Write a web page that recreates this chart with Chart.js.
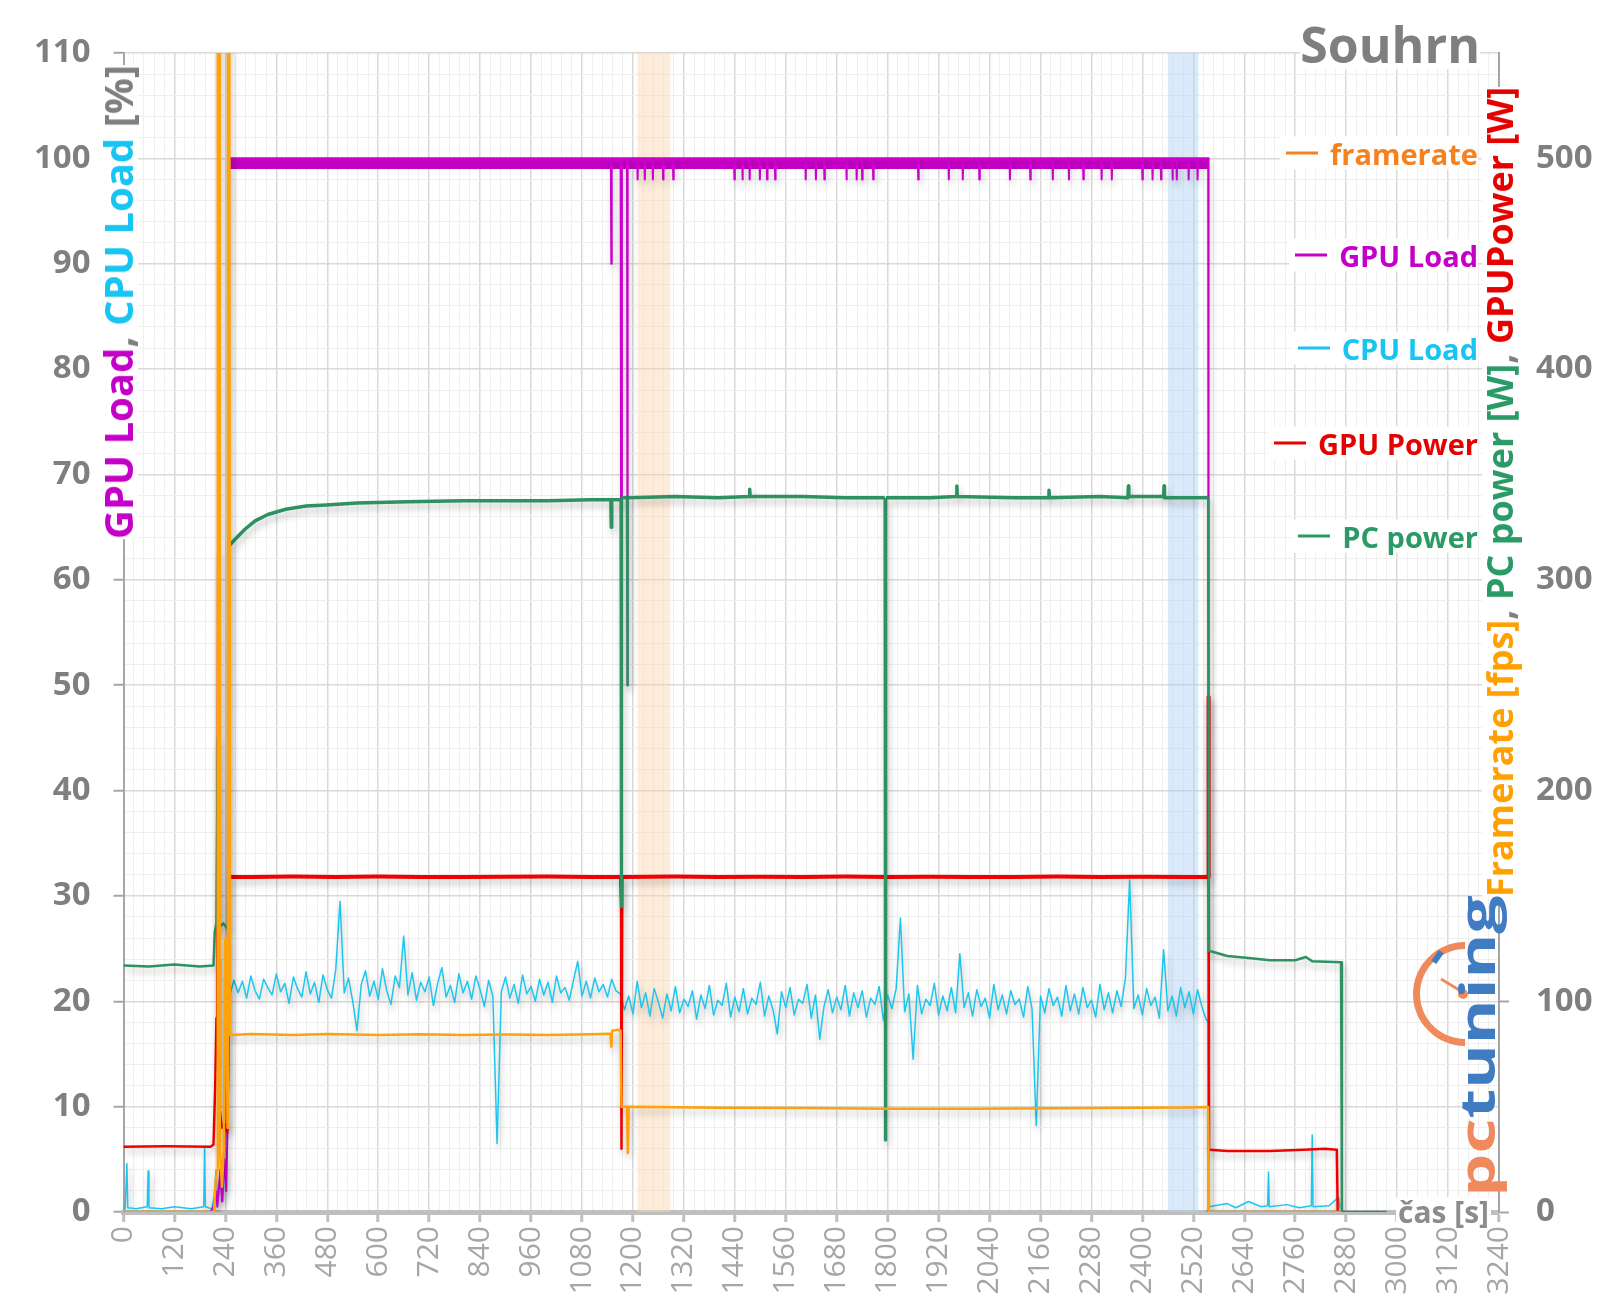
<!DOCTYPE html>
<html lang="cs">
<head>
<meta charset="utf-8">
<title>Souhrn</title>
<script src="https://cdn.jsdelivr.net/npm/chart.js@4.4.1/dist/chart.umd.min.js"></script>
<style>
html, body { margin: 0; padding: 0; background: #fff; }
#wrap { position: relative; width: 1600px; height: 1300px; overflow: hidden; font-family: 'Open Sans', sans-serif; }
#chart { position: absolute; left: 0; top: 0; }
.box { position: absolute; white-space: nowrap; line-height: 1; font-weight: 700; background: #fff; }
.rot { transform: translate(-50%, -50%) rotate(-90deg); }
.leg { position: absolute; right: 122px; transform: translateY(-50%); display: flex; align-items: center;
       font: 700 29px 'Open Sans', sans-serif; line-height: 1; background: #fff; padding: 2px 0 2px 6px; white-space: nowrap; }
.leg i { display: inline-block; width: 32px; height: 3px; margin-right: 12px; }
.arc { position: absolute; width: 90px; height: 90px; border: 7px solid transparent; border-left-color: #f0895c;
       border-bottom-color: #f0895c; border-radius: 50%; transform: rotate(45deg); }
.needle { position: absolute; width: 28px; height: 3px; background: #f0895c; transform-origin: 0 50%; transform: rotate(-149deg); }
.dot { position: absolute; width: 10px; height: 10px; border-radius: 50%; background: #f0895c; }
.tick { position: absolute; width: 13px; height: 6px; background: #3f7cc2; transform: rotate(-55deg); }
.logo { transform: translate(-50%, -50%) rotate(-90deg) scaleX(1.42); }
</style>
</head>
<body>
<div id="wrap">
  <canvas id="chart" width="1600" height="1300"></canvas>

  <div class="box" style="right:120px; top:19px; font-size:50px; color:#7f7f7f;">Souhrn</div>

  <div class="box rot" style="left:118px; top:302px; font-size:40px;">
    <span style="color:#c400c8">GPU Load</span><span style="color:#7f7f7f">, </span><span style="color:#18c4f2">CPU Load</span><span style="color:#7f7f7f"> [%]</span>
  </div>

  <div class="box rot" style="left:1500px; top:492px; font-size:36px;">
    <span style="color:#ffa000">Framerate [fps]</span><span style="color:#7f7f7f">, </span><span style="color:#2a9a66">PC power [W]</span><span style="color:#7f7f7f">, </span><span style="color:#e60000">GPUPower [W]</span>
  </div>

  <div class="box" style="left:1396px; top:1197px; font-size:30px; color:#8c8c8c; padding:0 2px;">čas [s]</div>

  <div class="leg" style="top:153px"><i style="background:#f5821f"></i><span style="color:#f5821f">framerate</span></div>
  <div class="leg" style="top:255px"><i style="background:#c400c8"></i><span style="color:#c400c8">GPU Load</span></div>
  <div class="leg" style="top:348px"><i style="background:#18c4f2"></i><span style="color:#18c4f2">CPU Load</span></div>
  <div class="leg" style="top:443px"><i style="background:#e60000"></i><span style="color:#e60000">GPU Power</span></div>
  <div class="leg" style="top:536px"><i style="background:#2a9a66"></i><span style="color:#2a9a66">PC power</span></div>

  <!-- pctuning logo -->
  <div class="arc" style="left:1413px; top:942px;"></div>
  <div class="tick" style="left:1431px; top:954px;"></div>
  <div class="needle" style="left:1465px; top:992px;"></div>
  <div class="dot" style="left:1458px; top:989px;"></div>
  <div class="box logo" style="left:1477px; top:1046px; font-size:48px; background:transparent;">
    <span style="color:#f0895c">pc</span><span style="color:#3f7cc2">tuning</span>
  </div>
</div>

<script>
(() => {
'use strict';
const $ = s => document.querySelector(s);

// time axis [s]
const timeMin = 0, timeMax = 3240, timeStep = 120, timeMinorStep = 24;
// left axis [%], right axis [W / fps]
const loadMax = 110, loadStep = 10, loadMinorStep = 2;
const powerMax = 550, powerStep = 100;

// highlighted intervals [s]
const bandStart = [1211, 2460];
const bandEnd = [1288, 2532];

// framerate [fps] as [time, value]
const framerate = [
  [0, 0], [213, 0], [217, 15], [221, 20], [222, 700], [226, 700], [227, 30], [232, 12], [236, 30], [240, 130],
  [243, 100], [245, 40], [246, 700], [249, 700], [251, 84], [300, 84.5], [400, 84], [480, 84.5], [600, 84],
  [700, 84.3], [800, 84], [900, 84.2], [1000, 84], [1100, 84.4], [1147, 84.6], [1149, 78.5], [1151, 86],
  [1165, 86.5], [1171, 86], [1173, 50], [1186, 50], [1188, 28], [1190, 50], [1250, 49.8], [1400, 49.5],
  [1600, 49.3], [1800, 49], [2000, 49], [2200, 49.2], [2400, 49.5], [2500, 49.6], [2555, 49.8], [2557, 0], [2869, 0]
];

// GPU load [%]
const gpuLoad = [
  [0, 0], [205, 0], [212, 0.5], [218, 2], [221, 0.5], [228, 4], [232, 1], [238, 5], [242, 2], [245, 8], [248, 100],
  [1148, 100], [1149, 90], [1150, 100], [1171, 100], [1172, 67], [1174, 100], [1186, 100], [1187, 50], [1188, 100],
  [1210, 100], [1211, 98], [1212, 100], [1227, 100], [1228, 98], [1229, 100], [1246, 100], [1247, 98], [1248, 100],
  [1270, 100], [1271, 98], [1272, 100], [1294, 100], [1295, 98], [1296, 100], [1438, 100], [1439, 98], [1440, 100],
  [1457, 100], [1458, 98], [1459, 100], [1474, 100], [1475, 98], [1476, 100], [1498, 100], [1499, 98], [1500, 100],
  [1515, 100], [1516, 98], [1517, 100], [1534, 100], [1535, 98], [1536, 100], [1606, 100], [1607, 98], [1608, 100],
  [1630, 100], [1631, 98], [1632, 100], [1650, 100], [1651, 98], [1652, 100], [1702, 100], [1703, 98], [1704, 100],
  [1726, 100], [1727, 98], [1728, 100], [1739, 100], [1740, 98], [1741, 100], [1765, 100], [1766, 98], [1767, 100],
  [1871, 100], [1872, 98], [1873, 100], [1943, 100], [1944, 98], [1945, 100], [1976, 100], [1977, 98], [1978, 100],
  [2015, 100], [2016, 98], [2017, 100], [2087, 100], [2088, 98], [2089, 100], [2135, 100], [2136, 98], [2137, 100],
  [2188, 100], [2189, 98], [2190, 100], [2226, 100], [2227, 98], [2228, 100], [2260, 100], [2261, 98], [2262, 100],
  [2303, 100], [2304, 98], [2305, 100], [2327, 100], [2328, 98], [2329, 100], [2399, 100], [2400, 98], [2401, 100],
  [2423, 100], [2424, 98], [2425, 100], [2443, 100], [2444, 98], [2445, 100], [2470, 100], [2471, 98], [2472, 100],
  [2480, 100], [2481, 98], [2482, 100], [2508, 100], [2509, 98], [2510, 100], [2529, 100], [2530, 98], [2531, 100],
  [2555, 100], [2556, 0], [2869, 0]
];

// CPU load [%]: idle part, sampled run (every 10 s from 250 s), idle tail
const cpuIdle = [
  [0, 0.6], [4, 0.3], [8, 4.6], [10, 0.4], [30, 0.3], [56, 0.5], [58, 3.9], [60, 0.4], [90, 0.3], [120, 0.5],
  [160, 0.3], [189, 0.5], [191, 6.1], [193, 0.5], [208, 0.3], [214, 1.5], [218, 4], [222, 1], [228, 3], [234, 1],
  [240, 6], [244, 20]
];
const cpuStart = 250, cpuStep = 10;
const cpuLoad = [
  20.5, 22.0, 20.8, 21.9, 20.3, 22.4, 21.0, 20.2, 22.1, 21.3,
  20.6, 22.6, 20.9, 21.7, 19.8, 22.3, 21.2, 20.4, 22.8, 20.7,
  21.8, 19.9, 22.5, 21.1, 20.3, 23.0, 29.5, 20.8, 22.2, 20.0,
  17.2, 21.6, 22.9, 20.5, 21.9, 20.2, 23.1, 21.0, 19.7, 22.4,
  21.3, 26.2, 20.6, 22.7, 20.1, 21.8, 20.9, 22.3, 19.6, 21.7,
  23.2, 20.4, 21.5, 19.9, 22.6, 20.8, 21.9, 20.2, 22.4, 21.1,
  19.5, 22.0, 20.5, 6.5, 20.9, 22.3, 20.3, 21.6, 19.8, 22.5,
  20.7, 21.4, 20.0, 22.1, 20.6, 21.8, 19.9, 22.4, 20.8, 21.3,
  20.1, 22.0, 23.8, 20.5, 21.9, 20.3, 22.2, 20.9, 21.6, 20.4,
  22.1, 21.0, 20.7,
  19.2, 20.5, 18.8, 21.9, 19.4, 20.8, 18.6, 21.2, 19.9, 18.4,
  20.7, 19.1, 21.4, 18.9, 20.2, 19.5, 21.0, 18.3, 20.6, 19.3,
  21.5, 18.7, 20.1, 19.6, 21.7, 18.5, 20.4, 19.0, 21.2, 18.8,
  20.3, 19.7, 21.8, 18.6, 20.5, 19.2, 16.9, 20.9, 19.4, 21.3,
  18.7, 20.2, 19.8, 21.6, 18.4, 20.6, 16.4, 19.5, 21.1, 18.9,
  20.4, 19.2, 21.5, 18.6, 20.8, 19.4, 21.0, 18.5, 20.3, 19.7,
  21.4, 18.2, 20.6, 19.3, 21.2, 27.9, 19.0, 20.7, 14.5, 21.5,
  18.8, 20.2, 19.6, 21.7, 18.7, 20.5, 19.1, 21.3, 18.9, 24.5,
  19.4, 20.8, 18.6, 21.1, 19.5, 20.3, 18.4, 21.6, 19.2, 20.6,
  18.8, 21.0, 19.7, 20.2, 18.5, 21.4, 19.3, 8.2, 20.5, 18.9,
  21.2, 19.6, 20.4, 18.6, 21.5, 19.1, 20.7, 18.8, 21.3, 19.4,
  20.1, 18.5, 21.6, 19.2, 20.8, 18.9, 21.0, 19.5, 22.2, 31.5,
  19.3, 20.6, 18.7, 21.2, 19.6, 20.4, 18.4, 24.9, 19.1, 20.5,
  18.6, 21.3, 19.4, 20.9, 18.8, 21.1, 19.5, 18.3
];
const cpuTail = [
  [2556, 18], [2557, 0.5], [2600, 0.8], [2620, 0.4], [2650, 1.0], [2680, 0.5], [2695, 0.6], [2697, 3.8],
  [2699, 0.5], [2740, 0.7], [2770, 0.4], [2798, 0.6], [2800, 7.3], [2802, 0.5], [2840, 0.6], [2862, 1.4], [2866, 0.3]
];

// GPU power [W]
const gpuPower = [
  [0, 31], [100, 31.2], [205, 31], [212, 32], [216, 60], [219, 92], [221, 88], [223, 313], [225, 120], [227, 48],
  [232, 40], [238, 42], [244, 38], [247, 70], [249, 159], [300, 159], [400, 159.2], [500, 159], [600, 159.2],
  [700, 159], [800, 159], [900, 159.1], [1000, 159.2], [1100, 159], [1170, 159], [1172, 145], [1173, 30],
  [1175, 159], [1300, 159.2], [1400, 159], [1500, 159.1], [1600, 159], [1700, 159.2], [1800, 159],
  [1900, 159.1], [2000, 159], [2100, 159], [2200, 159.2], [2300, 159], [2400, 159.1], [2500, 159],
  [2555, 159], [2556, 245], [2557, 29.5], [2600, 29], [2700, 29], [2780, 29.5], [2830, 30], [2858, 29.5],
  [2860, 0], [2869, 0]
];

// PC power [W]
const pcPower = [
  [0, 117], [60, 116.5], [120, 117.5], [180, 116.5], [212, 117], [215, 133], [219, 137], [222, 225], [225, 135],
  [235, 137], [246, 134], [250, 316.5], [262, 319], [286, 324], [310, 328], [340, 331], [382, 333.5], [430, 335],
  [478, 335.5], [550, 336.5], [670, 337], [800, 337.5], [1000, 337.5], [1100, 338], [1148, 338], [1149, 325],
  [1150, 338], [1171, 338], [1172, 145], [1174, 339], [1186, 339], [1187, 250], [1188, 339], [1300, 339.5],
  [1400, 339], [1474, 339.5], [1475, 343], [1476, 339.5], [1600, 339.5], [1700, 339], [1793, 339], [1794, 34],
  [1796, 339], [1900, 339], [1962, 339.5], [1963, 344.5], [1964, 339.5], [2100, 339], [2179, 339], [2180, 342.5],
  [2181, 339], [2300, 339.5], [2366, 339], [2367, 344.5], [2368, 339.5], [2450, 339.5], [2451, 344.5],
  [2452, 339], [2555, 339], [2557, 124], [2600, 121.5], [2650, 120.5], [2700, 119.5], [2760, 119.5],
  [2785, 121], [2800, 119], [2868, 118.5], [2870, 0], [2975, 0]
];

const GRAY = '#7f7f7f';
const FONT = "'Open Sans', sans-serif";

const toPts = pairs => pairs.map(([x, y]) => ({ x, y }));
const cpuPts = toPts(cpuIdle)
  .concat(cpuLoad.map((v, i) => ({ x: cpuStart + i * cpuStep, y: v })))
  .concat(toPts(cpuTail));

// soft shadow under the lines, like the original
const shadowPlugin = {
  id: 'shadow',
  beforeDatasetDraw(chart) {
    const c = chart.ctx;
    c.save();
    c.shadowColor = 'rgba(0,0,0,0.25)';
    c.shadowBlur = 7;
    c.shadowOffsetX = 2;
    c.shadowOffsetY = 5;
  },
  afterDatasetDraw(chart) { chart.ctx.restore(); }
};

const bandColors = ['rgba(252, 212, 175, 0.45)', 'rgba(175, 208, 245, 0.45)'];
const bandPlugin = {
  id: 'bands',
  beforeDatasetsDraw(chart) {
    const { ctx, chartArea: a, scales: { x } } = chart;
    ctx.save();
    bandStart.forEach((s, i) => {
      const l = x.getPixelForValue(s), r = x.getPixelForValue(bandEnd[i]);
      ctx.fillStyle = bandColors[i];
      ctx.fillRect(l, a.top, r - l, a.bottom - a.top);
    });
    ctx.restore();
  }
};

const minorGrid = major => ctx => (ctx.tick && Math.abs(ctx.tick.value % major) < 1e-6) ? 'rgba(0,0,0,0)' : '#efefef';
// the noisy load plateaus read as a thicker band
const plateauWidth = (limit, thick, thin) => ({
  borderWidth: ctx => (ctx.p0.parsed.y > limit && ctx.p1.parsed.y > limit) ? thick : thin
});

new Chart($('#chart'), {
  type: 'line',
  data: {
    datasets: [
      { label: 'framerate', data: toPts(framerate), yAxisID: 'y2', borderColor: '#ffa10a', borderWidth: 2.5 },
      { label: 'PC power', data: toPts(pcPower), yAxisID: 'y2', borderColor: '#2e9162', borderWidth: 2.5,
        segment: plateauWidth(300, 3.5, 2.5) },
      { label: 'GPU Power', data: toPts(gpuPower), yAxisID: 'y2', borderColor: '#f00000', borderWidth: 2.5,
        segment: plateauWidth(150, 4, 2.5) },
      { label: 'GPU Load', data: toPts(gpuLoad), yAxisID: 'y', borderColor: '#cc00cc', borderWidth: 2,
        fill: { target: { value: 99 }, above: '#cc00cc', below: 'rgba(0,0,0,0)' } },
      { label: 'CPU Load', data: cpuPts, yAxisID: 'y', borderColor: '#1cc7ef', borderWidth: 1.5 }
    ]
  },
  options: {
    responsive: false,
    animation: false,
    devicePixelRatio: 1,
    layout: { padding: { top: 53, left: 0, right: 0, bottom: 0 } },
    elements: {
      point: { radius: 0, hoverRadius: 0 },
      line: { tension: 0, borderJoinStyle: 'round', fill: false }
    },
    plugins: { legend: { display: false }, tooltip: { enabled: false }, title: { display: false } },
    scales: {
      x: {
        type: 'linear', position: 'bottom', min: timeMin, max: timeMax,
        ticks: { stepSize: timeStep, autoSkip: false, minRotation: 90, maxRotation: 90, padding: 4,
                 color: '#a6a6a6', font: { family: FONT, size: 30 }, callback: v => String(v) },
        grid: { color: '#d9d9d9', lineWidth: 1.5, tickLength: 10, tickColor: '#bfbfbf', tickWidth: 3 },
        border: { color: '#bfbfbf', width: 5 },
        afterFit: s => { s.height = 88; }
      },
      xm: {
        type: 'linear', position: 'bottom', min: timeMin, max: timeMax,
        ticks: { stepSize: timeMinorStep, display: false },
        grid: { color: minorGrid(timeStep), lineWidth: 1, drawTicks: false },
        border: { display: false },
        afterFit: s => { s.height = 0; }
      },
      y: {
        type: 'linear', position: 'left', min: 0, max: loadMax,
        ticks: { stepSize: loadStep, padding: 23, color: GRAY, font: { family: FONT, size: 33, weight: 'bold' } },
        grid: { color: '#d9d9d9', lineWidth: 1.5, tickLength: 10, tickColor: '#a6a6a6', tickWidth: 2 },
        border: { color: '#a6a6a6', width: 2 },
        afterFit: s => { s.width = 123.5; }
      },
      ym: {
        type: 'linear', position: 'left', min: 0, max: loadMax,
        ticks: { stepSize: loadMinorStep, display: false },
        grid: { color: minorGrid(loadStep), lineWidth: 1, drawTicks: false },
        border: { display: false },
        afterFit: s => { s.width = 0; }
      },
      y2: {
        type: 'linear', position: 'right', min: 0, max: powerMax, bounds: 'data',
        ticks: { stepSize: powerStep, includeBounds: false, padding: 27, color: GRAY,
                 font: { family: FONT, size: 33, weight: 'bold' },
                 callback: v => (v % powerStep === 0 ? String(v) : null) },
        grid: { drawOnChartArea: false, tickLength: 10, tickColor: '#a6a6a6', tickWidth: 2 },
        border: { color: '#a6a6a6', width: 2 },
        afterFit: s => { s.width = 101; }
      }
    }
  },
  plugins: [bandPlugin, shadowPlugin]
});

})();
</script>
</body>
</html>
